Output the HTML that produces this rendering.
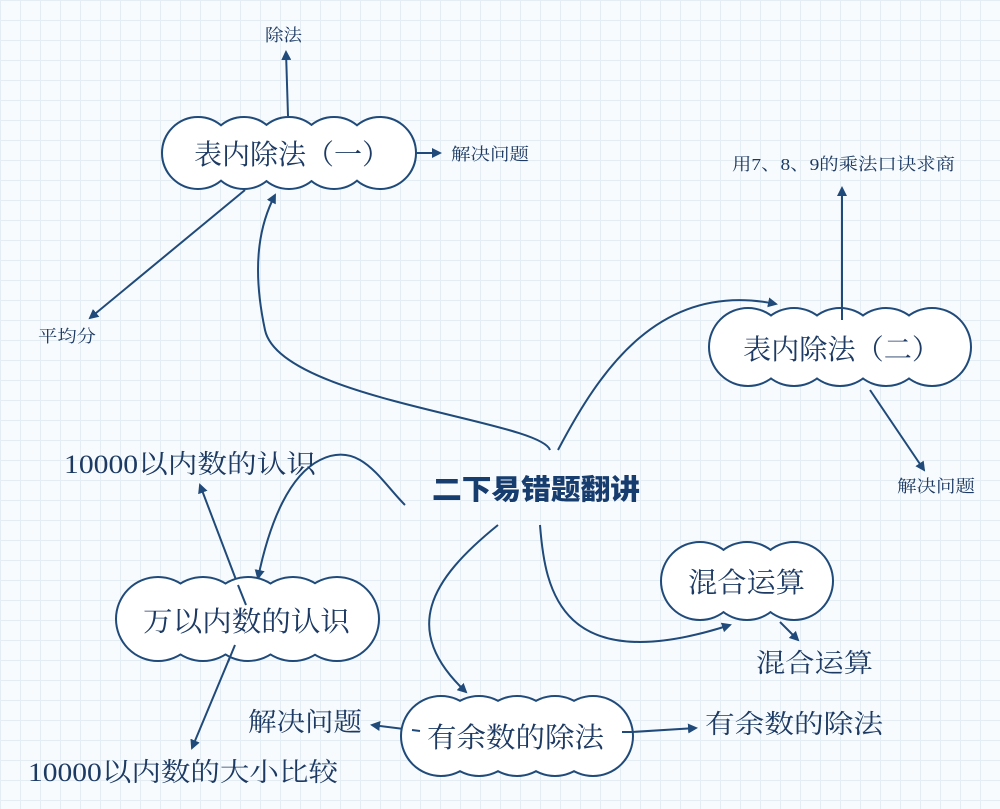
<!DOCTYPE html>
<html><head><meta charset="utf-8"><style>
html,body{margin:0;padding:0}
body{width:1000px;height:809px;overflow:hidden;background-color:#f8fbfd;
background-image:linear-gradient(#e4edf4 1px,transparent 1px),linear-gradient(90deg,#e4edf4 1px,transparent 1px);
background-size:20px 20px;}
svg{position:absolute;left:0;top:0}
text{font-family:"Liberation Serif","Noto Serif CJK SC",serif;fill:#1c3a63}
.t{font-family:"Liberation Sans","Noto Sans CJK SC",sans-serif;font-weight:900;fill:#173c6e}
</style></head><body>
<svg width="1000" height="809" viewBox="0 0 1000 809">
<defs>
<marker id="a" markerWidth="10" markerHeight="10" refX="8" refY="5" orient="auto" markerUnits="userSpaceOnUse">
<path d="M0,0 L10,5 L0,10 z" fill="#1f4a7a"/></marker>
</defs>
<g fill="none" stroke="#1f4a7a" stroke-width="2" marker-end="url(#a)">
<path d="M288,116 L286,52"/>
<path d="M398,153 L440,153"/>
<path d="M245,190 L90,318"/>
<path d="M550,450 C540,420 280,400 265,330 C250,260 262,220 275,195"/>
<path d="M558,450 C600,370 660,280 776,304"/>
<path d="M842,308 L842,188"/>
<path d="M870,390 L924,470"/>
<path d="M405,505 C380,480 360,440 320,460 C290,475 270,520 258,578"/>
<path d="M238,585 L200,485"/>
<path d="M235,645 L192,748"/>
<path d="M498,525 C430,580 400,630 466,692"/>
<path d="M540,525 C545,590 560,680 730,625"/>
<path d="M780,622 L798,640"/>
<path d="M412,730 L372,725"/>
<path d="M632,732 L696,728"/>
</g>
<g stroke="#1f4a7a" stroke-width="4" fill="none">
<circle cx="198" cy="153" r="35"/><circle cx="244" cy="153" r="35"/><circle cx="289" cy="153" r="35"/><circle cx="334" cy="153" r="35"/><circle cx="380" cy="153" r="35"/>
<circle cx="748" cy="347" r="38"/><circle cx="794" cy="347" r="38"/><circle cx="840" cy="347" r="38"/><circle cx="886" cy="347" r="38"/><circle cx="932" cy="347" r="38"/>
<circle cx="158" cy="619" r="41"/><circle cx="203" cy="619" r="41"/><circle cx="248" cy="619" r="41"/><circle cx="293" cy="619" r="41"/><circle cx="337" cy="619" r="41"/>
<circle cx="700" cy="581" r="38"/><circle cx="747" cy="581" r="38"/><circle cx="794" cy="581" r="38"/>
<circle cx="441" cy="736" r="39"/><circle cx="479" cy="736" r="39"/><circle cx="517" cy="736" r="39"/><circle cx="555" cy="736" r="39"/><circle cx="593" cy="736" r="39"/>
</g>
<g fill="#fff">
<circle cx="198" cy="153" r="35"/><circle cx="244" cy="153" r="35"/><circle cx="289" cy="153" r="35"/><circle cx="334" cy="153" r="35"/><circle cx="380" cy="153" r="35"/>
<circle cx="748" cy="347" r="38"/><circle cx="794" cy="347" r="38"/><circle cx="840" cy="347" r="38"/><circle cx="886" cy="347" r="38"/><circle cx="932" cy="347" r="38"/>
<circle cx="158" cy="619" r="41"/><circle cx="203" cy="619" r="41"/><circle cx="248" cy="619" r="41"/><circle cx="293" cy="619" r="41"/><circle cx="337" cy="619" r="41"/>
<circle cx="700" cy="581" r="38"/><circle cx="747" cy="581" r="38"/><circle cx="794" cy="581" r="38"/>
<circle cx="441" cy="736" r="39"/><circle cx="479" cy="736" r="39"/><circle cx="517" cy="736" r="39"/><circle cx="555" cy="736" r="39"/><circle cx="593" cy="736" r="39"/>
</g>
<g stroke="#1f4a7a" stroke-width="2" fill="none">
<path d="M238,585 L246,605"/><path d="M235,645 L228,662"/><path d="M412,730 L420,731"/><path d="M632,732 L622,732"/><path d="M842,308 L842,320"/>
</g>
<g lengthAdjust="spacingAndGlyphs">
<text x="194" y="164" font-size="28" textLength="196" lengthAdjust="spacingAndGlyphs">表内除法（一）</text>
<text x="743" y="359" font-size="28" textLength="197" lengthAdjust="spacingAndGlyphs">表内除法（二）</text>
<text x="143" y="631" font-size="28" textLength="207" lengthAdjust="spacingAndGlyphs">万以内数的认识</text>
<text x="688" y="592" font-size="28" textLength="117" lengthAdjust="spacingAndGlyphs">混合运算</text>
<text x="427" y="747" font-size="28" textLength="177" lengthAdjust="spacingAndGlyphs">有余数的除法</text>
<text x="265" y="41" font-size="17" textLength="37" lengthAdjust="spacingAndGlyphs">除法</text>
<text x="451" y="160" font-size="17" textLength="78" lengthAdjust="spacingAndGlyphs">解决问题</text>
<text x="38" y="342" font-size="17" textLength="58" lengthAdjust="spacingAndGlyphs">平均分</text>
<text x="732" y="170" font-size="17" textLength="223" lengthAdjust="spacingAndGlyphs">用7、8、9的乘法口诀求商</text>
<text x="897" y="492" font-size="17" textLength="78" lengthAdjust="spacingAndGlyphs">解决问题</text>
<text x="64" y="473" font-size="26" textLength="252" lengthAdjust="spacingAndGlyphs">10000以内数的认识</text>
<text x="28" y="781" font-size="26" textLength="310" lengthAdjust="spacingAndGlyphs">10000以内数的大小比较</text>
<text x="248" y="731" font-size="26" textLength="114" lengthAdjust="spacingAndGlyphs">解决问题</text>
<text x="756" y="672" font-size="26" textLength="117" lengthAdjust="spacingAndGlyphs">混合运算</text>
<text x="705" y="733" font-size="26" textLength="178" lengthAdjust="spacingAndGlyphs">有余数的除法</text>
<text class="t" x="432" y="499" font-size="28" textLength="208" lengthAdjust="spacingAndGlyphs">二下易错题翻讲</text>
</g>
</svg>
</body></html>
